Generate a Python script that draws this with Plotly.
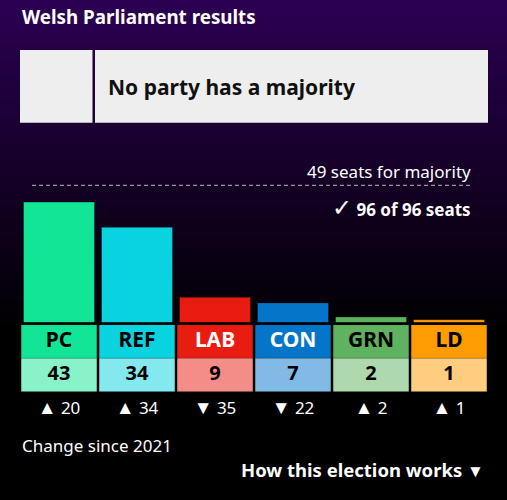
import plotly.graph_objects as go

# ---- data ----
parties = ["PC", "REF", "LAB", "CON", "GRN", "LD"]
seats = [43, 34, 9, 7, 2, 1]
change = [20, 34, -35, -22, 2, 1]
majority = 49
declared = 96
total_seats = 96
title = "Welsh Parliament results"
status = "No party has a majority"
change_label = "Change since 2021"
footer = "How this election works"

# ---- styles ----
bar_colors = ["#13E596", "#09D3DF", "#E91C11", "#0575C9", "#5FB25F", "#FF9C00"]
light_colors = ["#88F2C9", "#83E9EF", "#F48D88", "#81BAE4", "#AED8AE", "#FFCD80"]
name_text_colors = ["#000000", "#000000", "#ffffff", "#ffffff", "#000000", "#000000"]
FONT = "Noto Sans"
W, H = 507, 500


def py(p):
    return 1 - p / H


def px(p):
    return p / W


fig = go.Figure()

# seat bars
fig.add_trace(go.Bar(
    x=parties, y=seats, width=0.91,
    marker=dict(color=bar_colors, line=dict(color="rgba(0,0,0,0.3)", width=1)),
    xaxis="x", yaxis="y", hoverinfo="skip",
))
# name row cells
fig.add_trace(go.Bar(
    x=parties, y=[1] * len(parties), base=[1] * len(parties), width=0.97,
    marker=dict(color=bar_colors, line=dict(color="rgba(0,0,0,0.15)", width=1)),
    xaxis="x", yaxis="y2", hoverinfo="skip",
))
# value row cells
fig.add_trace(go.Bar(
    x=parties, y=[1] * len(parties), base=[0] * len(parties), width=0.97,
    marker=dict(color=light_colors, line=dict(color="rgba(0,0,0,0.1)", width=1)),
    xaxis="x", yaxis="y2", hoverinfo="skip",
))
# names
fig.add_trace(go.Scatter(
    x=parties, y=[1.5] * len(parties), mode="text", text=parties,
    textfont=dict(family=FONT, size=21, color=name_text_colors, weight=700),
    xaxis="x", yaxis="y2", hoverinfo="skip", cliponaxis=False,
))
# values
fig.add_trace(go.Scatter(
    x=parties, y=[0.5] * len(parties), mode="text", text=[str(s) for s in seats],
    textfont=dict(family=FONT, size=20, color="#000000", weight=700),
    xaxis="x", yaxis="y2", hoverinfo="skip", cliponaxis=False,
))
# change row
change_text = [
    ("<span style='font-size:19px'>%s</span> %d" % ("▲" if c >= 0 else "▼", abs(c)))
    for c in change
]
fig.add_trace(go.Scatter(
    x=parties, y=[0.5] * len(parties), mode="text", text=change_text,
    textfont=dict(family=FONT, size=17, color="#ffffff"),
    xaxis="x", yaxis="y3", hoverinfo="skip", cliponaxis=False,
))

shapes = []
# background gradient
N = 66
top = (0x2B, 0x00, 0x52)
for i in range(N):
    f = 1 - i / N
    col = "rgb(%d,%d,%d)" % tuple(int(round(c * f)) for c in top)
    shapes.append(dict(type="rect", xref="paper", yref="paper", x0=0, x1=1,
                       y0=py(i * 5 + 5.5), y1=py(i * 5), fillcolor=col,
                       line=dict(width=0), layer="below"))
# status box
shapes.append(dict(type="rect", xref="paper", yref="paper", x0=px(20), x1=px(92.5),
                   y0=py(122.7), y1=py(50), fillcolor="#EEEEEE", line=dict(width=0), layer="below"))
shapes.append(dict(type="rect", xref="paper", yref="paper", x0=px(95), x1=px(488),
                   y0=py(122.7), y1=py(50), fillcolor="#EEEEEE", line=dict(width=0), layer="below"))
# majority line
shapes.append(dict(type="line", xref="paper", yref="y", x0=px(32), x1=px(473),
                   y0=majority, y1=majority, line=dict(color="#BBBBBB", width=1, dash="4px,3px")))

annotations = [
    dict(text="<b>%s</b>" % title, x=px(20), y=py(17), xanchor="left", yanchor="middle",
         font=dict(family=FONT, size=18.8, color="#ffffff")),
    dict(text="<b>%s</b>" % status, x=px(106), y=py(87), xanchor="left", yanchor="middle",
         font=dict(family=FONT, size=21, color="#111111")),
    dict(text="%d seats for majority" % majority, x=px(473), y=py(171), xanchor="right", yanchor="middle",
         font=dict(family=FONT, size=17, color="#ffffff")),
    dict(text="<span style='font-size:24px;font-weight:normal'>✓</span> <b>%d of %d seats</b>" % (declared, total_seats),
         x=px(473), y=py(207), xanchor="right", yanchor="middle",
         font=dict(family=FONT, size=17, color="#ffffff")),
    dict(text=change_label, x=px(20), y=py(445), xanchor="left", yanchor="middle",
         font=dict(family=FONT, size=17, color="#ffffff")),
    dict(text="<b>%s</b> <span style='font-size:17px'>▼</span>" % footer, x=px(486), y=py(469),
         xanchor="right", yanchor="middle", font=dict(family=FONT, size=18.5, color="#ffffff")),
]
for a in annotations:
    a.update(xref="paper", yref="paper", showarrow=False)

fig.update_layout(
    width=W, height=H,
    margin=dict(l=0, r=0, t=0, b=0),
    paper_bgcolor="#000000", plot_bgcolor="rgba(0,0,0,0)",
    showlegend=False, barmode="overlay", hovermode=False,
    shapes=shapes, annotations=annotations,
    xaxis=dict(domain=[px(20), px(488)], range=[-0.5, 5.5], visible=False, fixedrange=True),
    yaxis=dict(domain=[py(322.5), py(154.5)], range=[0, 60], visible=False, fixedrange=True),
    yaxis2=dict(domain=[py(391.7), py(324.7)], range=[0, 2], visible=False, fixedrange=True),
    yaxis3=dict(domain=[py(420), py(400)], range=[0, 1], visible=False, fixedrange=True),
)

fig.write_html("out.html", config={"displayModeBar": False},
               post_script="document.body.style.margin='0px';document.body.style.overflow='hidden';")
